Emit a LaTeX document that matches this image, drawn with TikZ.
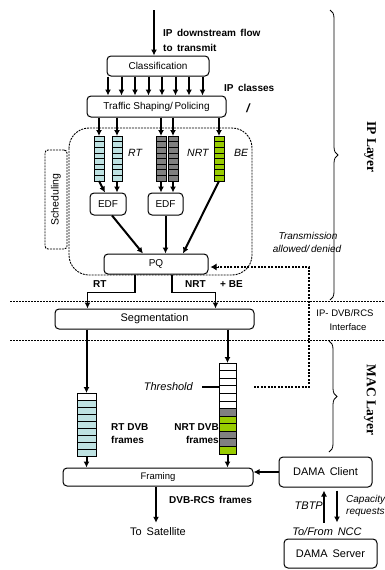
\documentclass[tikz,border=0pt]{standalone}
\usepackage{fontspec}
\setmainfont{Liberation Sans}
\newfontfamily\serifbf{Liberation Serif}
\usetikzlibrary{arrows.meta,decorations.pathreplacing,calc}
\definecolor{qblue}{RGB}{190,226,226}
\definecolor{qgray}{RGB}{128,128,128}
\definecolor{qgreen}{RGB}{153,204,0}
\begin{document}
\begin{tikzpicture}[x=1pt,y=-1pt,
  box/.style={draw,rounded corners=4pt,line width=1pt,inner sep=0pt},
  arr/.style={line width=2pt,-{Latex[length=6pt,width=6pt]}},
  bl/.style={font=\fontsize{10}{11}\selectfont\bfseries,inner sep=0pt},
  itl/.style={font=\fontsize{10.5}{12}\selectfont\itshape,inner sep=0pt},
  cell/.style={draw,line width=0.7pt},
  qshape/.style={inner sep=0pt,outer sep=0pt},
  dsh/.style={line width=0.9pt,dash pattern=on 2pt off 1pt},
  fbline/.style={line width=2.6pt,dash pattern=on 2pt off 1.4pt},
  brc/.style={decorate,decoration={brace,amplitude=8pt},line width=0.8pt},
]
\useasboundingbox (0,0) rectangle (384,570);

% ---------- boxes ----------
\node[box,minimum width=102pt,minimum height=20pt,font=\fontsize{10}{12}\selectfont] (cls) at (158,66) {Classification};
\node[box,minimum width=139pt,minimum height=21pt,font=\fontsize{10}{12}\selectfont] (tsp) at (156.5,106.5) {Traffic Shaping/\,Policing};
\node[box,minimum width=36pt,minimum height=22pt,font=\fontsize{10}{12}\selectfont] (edf1) at (108,204) {EDF};
\node[box,minimum width=35pt,minimum height=22pt,font=\fontsize{10}{12}\selectfont] (edf2) at (165.5,204) {EDF};
\node[box,minimum width=104pt,minimum height=20pt,font=\fontsize{10}{12}\selectfont] (pq) at (156,264) {PQ};
\node[box,minimum width=199pt,minimum height=20pt,font=\fontsize{11}{12}\selectfont] (seg) at (154.5,319) {Segmentation};
\node[box,minimum width=190pt,minimum height=18pt,font=\fontsize{9.5}{12}\selectfont] (frm) at (158,477) {Framing};
\node[box,minimum width=93pt,minimum height=30pt,font=\fontsize{11}{12}\selectfont,text depth=-3pt] (dc) at (325.5,472) {DAMA\, Client};
\node[box,minimum width=93pt,minimum height=29pt,font=\fontsize{11}{12}\selectfont] (ds) at (330.5,553.5) {DAMA\, Server};

% scheduling region
\draw[dsh,rounded corners=20pt] (69,128) rectangle (252,275);
\node[draw,dsh,rounded corners=3pt,minimum width=22pt,minimum height=99pt,inner sep=0pt] (sched) at (56,199.5) {};
\node[rotate=90,font=\fontsize{10.5}{12}\selectfont] (schedt) at (sched.center) {Scheduling};

% ---------- IP queues ----------
\foreach \n/\cx/\col in {q1/99/qblue,q2/117/qblue,q3/161/qgray,q4/173/qgray,q5/219/qgreen}{
  \node[qshape,minimum width=10pt,minimum height=45pt] (\n) at (\cx,158.5) {};
  \foreach \i in {0,...,7}{
    \draw[cell,fill=\col] ($(\n.north west)+(0,\i*5.625)$) rectangle ++(10,5.625);
  }
}

% ---------- DVB queues ----------
\node[qshape,minimum width=19pt,minimum height=63pt] (rq) at (86.5,424.5) {};
\foreach \c [count=\i from 0] in {white,qblue,qblue,qblue,qblue,qblue,qblue,qblue,qblue}{
  \draw[cell,fill=\c] ($(rq.north west)+(0,\i*7)$) rectangle ++(19,7);
}
\node[qshape,minimum width=17pt,minimum height=91pt] (nq) at (227.5,408.5) {};
\foreach \c [count=\i from 0] in {white,white,white,white,white,white,qgray,qgreen,qgreen,qgray,qgray,qgreen}{
  \draw[cell,fill=\c] ($(nq.north west)+(0,\i*7.583)$) rectangle ++(17,7.583);
}

% ---------- arrows ----------
\coordinate (src) at (154,10);
\draw[arr,line width=2.2pt] (src) -- (src |- cls.north);
\foreach \x in {108,121.5,135,148.5,162,175.5,189,202.5}{
  \draw[arr] (\x,0 |- cls.south) -- (\x,0 |- tsp.north);
}
\foreach \n in {q1,q2,q3,q4,q5}{
  \draw[arr] (\n.north |- tsp.south) -- (\n.north);
}
\draw[arr] (q1.south) -- ($(edf1.north)+(-3,0)$);
\draw[arr] (q2.south) -- (q2.south |- edf1.north);
\draw[arr] (q3.south) -- (q3.south |- edf2.north);
\draw[arr] (q4.south) -- (q4.south |- edf2.north);
\draw[arr] ($(edf1.south)+(4,0)$) -- ($(pq.north)+(-13,0)$);
\draw[arr] (edf2.south) -- (edf2.south |- pq.north);
\draw[arr] (q5.south) -- ($(pq.north)+(27,0)$);

\draw[arr,line width=1.8pt] ($(pq.south)+(-21,0)$) -- ++(0,18) -| ($(seg.north west)+(33,0)$);
\draw[arr,line width=1.8pt] ($(pq.south)+(16,0)$) -- ++(0,18) -| ($(seg.north west)+(161,0)$);

\draw[arr] (rq.north |- seg.south) -- (rq.north);
\draw[arr] (nq.north |- seg.south) -- (nq.north);
\draw[arr] (rq.south) -- (rq.south |- frm.north);
\draw[arr] (nq.south) -- (nq.south |- frm.north);

\node[font=\fontsize{11}{12}\selectfont,inner sep=0pt] (sat) at (158,532) {To\, Satellite};
\draw[arr] (frm.south -| 156,0) -- ($(sat.north -| 156,0)+(0,-5)$);

\draw[arr] (dc.west) -- (dc.west -| frm.east);
\draw[arr] ($(dc.south)+(-1.5,35)$) -- ($(dc.south)+(-1.5,3)$);
\draw[arr] ($(dc.south)+(11.5,3)$) -- ($(dc.south)+(11.5,35)$);

% threshold and feedback
\coordinate (thr) at (202,387);
\draw[line width=1.2pt] (thr) -- (thr -| nq.west);
\coordinate (fb) at (254,387);
\draw[fbline] (fb) -- (309,387) -- (309,267) -- ($(pq.east)+(9,3)$);
\draw[-{Latex[length=6pt,width=7pt]},line width=1pt] ($(pq.east)+(10,3)$) -- ($(pq.east)+(2,3)$);

% separators
\coordinate (s1a) at (10,301); \coordinate (s1b) at (384,301);
\coordinate (s2a) at (10,340); \coordinate (s2b) at (384,340);
\draw[dsh] (s1a) -- (s1b);
\draw[dsh] (s2a) -- (s2b);

% braces
\draw[brc] (330,10) -- (330,300);
\draw[brc] (329,341) -- (329,452);
\node[rotate=-90,font=\fontsize{13.5}{15}\selectfont\serifbf\bfseries] (ipl) at (370,147) {IP Layer};
\node[rotate=-90,font=\fontsize{13.5}{15}\selectfont\serifbf\bfseries] (macl) at (370,400) {MAC Layer};

% ---------- labels ----------
\node[bl,anchor=west] (t1) at (163,33) {IP\, downstream\, flow};
\node[bl,anchor=west] (t2) at (163,48) {to\, transmit};
\node[bl,anchor=west] (ipc) at (224,88) {IP\, classes};
\node[bl,font=\fontsize{12}{12}\selectfont\bfseries\itshape] (sl) at (248,108) {/};
\node[itl,anchor=west] (lrt) at (128,153) {RT};
\node[itl,anchor=west] (lnrt) at (187,153) {NRT};
\node[itl,anchor=west] (lbe) at (234,153) {BE};
\node[itl,font=\fontsize{10}{12}\selectfont\itshape] (tr1) at (308,236) {Transmission};
\node[itl,font=\fontsize{10}{12}\selectfont\itshape] (tr2) at (307,249) {allowed/\,denied};
\node[bl,anchor=west] (ort) at (93,284) {RT};
\node[bl,anchor=west] (onrt) at (185,284) {NRT};
\node[bl,anchor=west] (obe) at (220,284) {+ BE};
\node[font=\fontsize{9.5}{11}\selectfont,inner sep=0pt] (if1) at (345,313) {IP- DVB/RCS};
\node[font=\fontsize{9.5}{11}\selectfont,inner sep=0pt] (if2) at (348,327) {Interface};
\node[itl,font=\fontsize{11}{12}\selectfont\itshape,anchor=east] (thrt) at (193,387) {Threshold};
\node[bl,anchor=west] (rd1) at (111,427) {RT DVB};
\node[bl,anchor=west] (rd2) at (111,440) {frames};
\node[bl,anchor=east] (nd1) at (219,427) {NRT DVB};
\node[bl,anchor=east] (nd2) at (219,440) {frames};
\node[bl,anchor=west] (dvbrcs) at (169,500) {DVB-RCS\, frames};
\node[itl,font=\fontsize{11}{12}\selectfont\itshape,anchor=east] (tbtp) at (323,506) {TBTP};
\node[itl,font=\fontsize{10}{12}\selectfont\itshape,anchor=west] (cap1) at (346,500) {Capacity};
\node[itl,font=\fontsize{10}{12}\selectfont\itshape,anchor=west] (cap2) at (346,512) {requests};
\node[itl,font=\fontsize{11}{12}\selectfont\itshape] (ncc) at (327,532) {To/From\, NCC};
\end{tikzpicture}
\end{document}
